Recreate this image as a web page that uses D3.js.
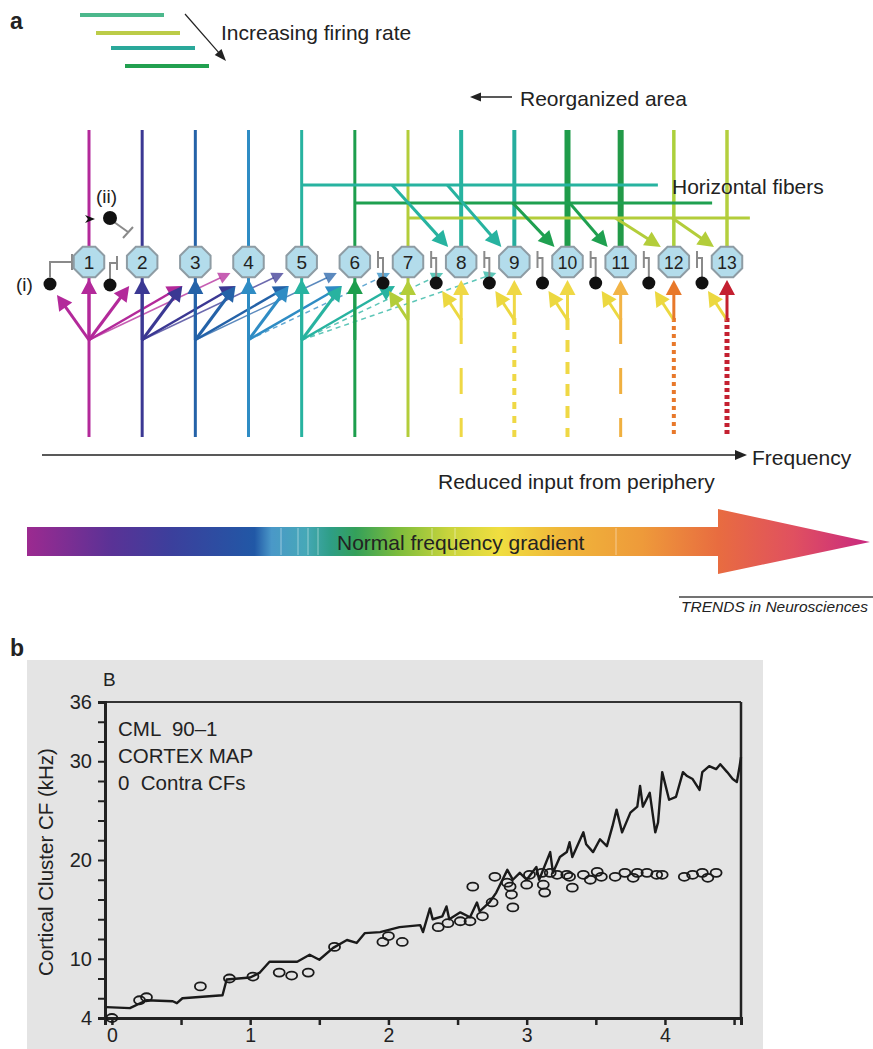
<!DOCTYPE html>
<html>
<head>
<meta charset="utf-8">
<script src="https://cdn.jsdelivr.net/npm/d3@7"></script>
<style>
  body { margin: 0; background: #fff; }
  text { font-family: "Liberation Sans", Arial, sans-serif; fill: #222; }
</style>
</head>
<body>
<div id="chart"></div>
<script>
// ---------- panel a: schematic ----------
const neurons = [1, 2, 3, 4, 5, 6, 7, 8, 9, 10, 11, 12, 13];
const upperColors = ["#b3299a", "#3b3893", "#2462a8", "#2f8cc4", "#28b3a0", "#1d9e4d", "#b3cd3a",
                     "#27b3a0", "#26ae9e", "#1f9c4a", "#229a48", "#acd03c", "#b4cf3e"];
const upperWidths = [3, 3, 3, 3, 3, 3, 3, 4, 4, 6, 6, 3.5, 3.5];
const lowerColors = ["#b3299a", "#3b3893", "#2462a8", "#2f8cc4", "#28b3a0", "#1d9e4d", "#b3cd3a",
                     "#efd845", "#efd845", "#efd845", "#f0b040", "#e8782a", "#c42030"];
const lowerDash = [null, null, null, null, null, null, null, "26,24", "7,7", "12,10", "26,24", "4,4", "4,3"];
const lowerWidths = [3, 3, 3, 3, 3, 3, 3, 3, 4, 4, 3, 4, 5];
const headColors = [null, null, null, null, null, null, "#b3cd3a", "#efd845", "#efd845", "#efd845", "#f2b446", "#e8782a", "#c42030"];

// fan-out of excitatory inputs (0 = interneuron (i))
const fanSource = [1, 1, 1, 1, 1, 2, 2, 2, 2, 3, 3, 3, 3, 4, 4, 4, 4, 5, 5, 5, 5, 5, 6];
const fanTarget = [0, 1, 2, 3, 4, 2, 3, 4, 5, 3, 4, 5, 6, 4, 5, 6, 7, 5, 6, 7, 8, 9, 6];
const fanWeight = [3, 3, 3, 2.5, 1.5, 3, 3, 2.5, 1.5, 3, 3, 2.5, 1.5, 3, 3, 2.5, 1.5, 3, 3, 2.5, 1.5, 1.5, 3];

// horizontal fibers
const fiberStart = [5, 6, 7];
const fiberEnd = [11.7, 12.72, 13.43];
const fiberColors = ["#27b3a0", "#1fa050", "#b3cd3a"];
const diagTarget = [8, 9, 10, 11, 12, 13];
const diagFiber = [0, 0, 1, 1, 2, 2];
const diagStart = [6.7, 7.74, 8.97, 10.04, 10.9, 11.97];

// firing-rate legend
const legendStart = [80, 96, 111, 125];
const legendColors = ["#4cb88c", "#bccc48", "#2aa89a", "#22a050"];

// gradient
const gradStops = [0, 0.10, 0.17, 0.27, 0.29, 0.33, 0.36, 0.39, 0.44, 0.5, 0.56, 0.63, 0.73, 0.82, 0.91, 1];
const gradColors = ["#9c2a90", "#5a3296", "#3c3f9c", "#2158a6", "#4a98c8", "#46a8b8", "#2e9e86", "#34a05a", "#7cbc3c",
                    "#c8d43c", "#f0de40", "#f0b83a", "#ee9a3a", "#e86c40", "#e05060", "#c82880"];

// ---------- panel b: cortical map ----------
const lineX = [-0.04, 0.13, 0.25, 0.44, 0.47, 0.51, 0.80, 0.83, 1.00, 1.07, 1.14, 1.34, 1.43, 1.50, 1.60, 1.70, 1.77, 1.83,
  1.94, 2.08, 2.23, 2.25, 2.30, 2.32, 2.39, 2.42, 2.44, 2.52, 2.59, 2.64, 2.66, 2.73, 2.78, 2.86, 2.90, 2.95, 3.00, 3.07,
  3.09, 3.17, 3.19, 3.24, 3.29, 3.31, 3.33, 3.41, 3.43, 3.48, 3.53, 3.58, 3.62, 3.65, 3.69, 3.75, 3.80, 3.82, 3.84, 3.89,
  3.93, 3.95, 3.98, 4.03, 4.08, 4.13, 4.16, 4.20, 4.25, 4.27, 4.32, 4.37, 4.40, 4.45, 4.49, 4.52, 4.54, 4.55];
const lineY = [5.1, 5.0, 5.8, 5.7, 5.5, 6.0, 6.3, 7.9, 8.1, 8.6, 9.7, 9.7, 10.4, 9.9, 11.1, 11.9, 11.6, 12.6,
  12.7, 13.2, 13.4, 12.7, 15.1, 14.0, 14.3, 15.3, 14.0, 14.7, 14.2, 15.7, 14.8, 15.7, 16.7, 19.0, 18.0, 18.7, 18.0, 19.3,
  18.0, 20.8, 18.7, 20.3, 20.8, 21.8, 20.3, 22.8, 21.6, 20.8, 22.1, 21.4, 23.4, 25.1, 22.8, 24.8, 25.4, 27.5, 25.4, 26.8,
  22.8, 23.8, 28.9, 26.1, 26.4, 28.9, 28.5, 28.2, 27.1, 28.9, 29.5, 29.2, 29.7, 28.9, 28.2, 27.9, 29.5, 30.4];
const circleX = [0.00, 0.20, 0.25, 0.64, 0.85, 1.02, 1.21, 1.30, 1.42, 1.61, 1.96, 2.00, 2.10, 2.36, 2.43, 2.52, 2.59,
  2.61, 2.68, 2.75, 2.77, 2.86, 2.88, 2.89, 2.90, 3.00, 3.02, 3.11, 3.12, 3.13, 3.17, 3.22, 3.29, 3.31, 3.33, 3.41, 3.46,
  3.51, 3.54, 3.64, 3.71, 3.77, 3.80, 3.87, 3.94, 3.98, 4.14, 4.20, 4.27, 4.31, 4.37];
const circleY = [4.0, 5.8, 6.1, 7.2, 8.0, 8.2, 8.6, 8.3, 8.6, 11.2, 11.7, 12.3, 11.7, 13.2, 13.6, 13.8, 13.8,
  17.3, 14.3, 15.7, 18.3, 17.7, 17.3, 16.5, 15.2, 17.5, 18.5, 18.7, 17.5, 16.7, 18.7, 18.5, 18.5, 18.3, 17.2, 18.5, 18.0,
  18.8, 18.3, 18.3, 18.7, 18.2, 18.7, 18.7, 18.5, 18.5, 18.3, 18.5, 18.7, 18.2, 18.7];
const yTicks = d3.range(4, 37, 2);
const yLabels = [4, 10, 20, 30, 36];
const xTicks = d3.range(0, 4.51, 0.5);
const infoLines = ["CML  90\u20131", "CORTEX MAP", "0  Contra CFs"];

const FS = "21px";

const svg = d3.select("#chart").append("svg")
  .attr("width", 873)
  .attr("height", 1049)
  .style("display", "block");

svg.append("rect").attr("width", 873).attr("height", 1049).attr("fill", "#fff");

const xN = d3.scaleLinear().domain([1, 13]).range([89, 727]);
const cy = 262;

function arrow(g, x1, y1, x2, y2, color, w, o) {
  o = o || {};
  const L = o.len || 12, H = o.hw || 6;
  const a = Math.atan2(y2 - y1, x2 - x1);
  const c = Math.cos(a), s = Math.sin(a);
  const bx = x2 - L * c, by = y2 - L * s;
  g.append("line")
    .attr("x1", x1).attr("y1", y1).attr("x2", bx + c).attr("y2", by + s)
    .attr("stroke", color).attr("stroke-width", w)
    .attr("stroke-dasharray", o.dash || null)
    .attr("opacity", o.op || 1);
  g.append("polygon")
    .attr("points", [[x2, y2], [bx - H * s, by + H * c], [bx + H * s, by - H * c]].map(p => p.join(",")).join(" "))
    .attr("fill", color)
    .attr("opacity", o.op || 1);
}

const a = svg.append("g");

// panel label and legend
a.append("text").attr("x", 10).attr("y", 29).style("font-size", "23px").style("font-weight", "bold").text("a");
a.selectAll(".leg").data(legendStart).enter().append("line")
  .attr("x1", d => d).attr("x2", d => d + 84)
  .attr("y1", (d, i) => [15, 33, 48, 66][i]).attr("y2", (d, i) => [15, 33, 48, 66][i])
  .attr("stroke", (d, i) => legendColors[i]).attr("stroke-width", 4);
arrow(a, 185, 14, 226, 61, "#222", 1.2, { len: 12, hw: 4.5 });
a.append("text").attr("x", 221).attr("y", 40).style("font-size", FS).text("Increasing firing rate");

arrow(a, 512, 97, 470, 97, "#222", 1.5, { len: 11, hw: 4.5 });
a.append("text").attr("x", 520).attr("y", 106).style("font-size", FS).text("Reorganized area");

// upper vertical fibers
a.selectAll(".up").data(neurons).enter().append("line")
  .attr("x1", d => xN(d)).attr("x2", d => xN(d))
  .attr("y1", 130).attr("y2", cy)
  .attr("stroke", (d, i) => upperColors[i]).attr("stroke-width", (d, i) => upperWidths[i]);

// lower vertical fibers
a.selectAll(".low").data(neurons).enter().append("line")
  .attr("x1", d => xN(d)).attr("x2", d => xN(d))
  .attr("y1", d => d <= 7 ? cy : 318).attr("y2", 437)
  .attr("stroke", (d, i) => lowerColors[i]).attr("stroke-width", (d, i) => lowerWidths[i])
  .attr("stroke-dasharray", (d, i) => lowerDash[i]);

// horizontal fibers
const fiberY = [185, 203, 218];
fiberStart.forEach((s, i) => {
  a.append("line").attr("x1", xN(s)).attr("x2", xN(fiberEnd[i]))
    .attr("y1", fiberY[i]).attr("y2", fiberY[i])
    .attr("stroke", fiberColors[i]).attr("stroke-width", 3);
});
diagTarget.forEach((t, i) => {
  arrow(a, xN(diagStart[i]), fiberY[diagFiber[i]], xN(t) - 13, 247, fiberColors[diagFiber[i]], 3, { len: 16, hw: 8 });
});
a.append("text").attr("x", 672).attr("y", 194).style("font-size", FS).text("Horizontal fibers");

// excitatory fan-out
fanSource.forEach((s, i) => {
  const t = fanTarget[i];
  const span = t - s;
  let ex, ey;
  if (t === 0) { ex = 57; ey = 295; }
  else if (t === s) { ex = xN(s); ey = 279; }
  else if (span <= 2) { ex = xN(t) - 13; ey = 286; }
  else { ex = xN(t) - 18; ey = 273; }
  const dashed = span >= 3 && s >= 4;
  arrow(a, xN(s), 340, ex, ey, upperColors[s - 1], fanWeight[i], {
    len: span >= 3 ? 12 : 15, hw: span >= 3 ? 6 : 8,
    dash: dashed ? "5,4" : null, op: span >= 3 ? 0.75 : 1
  });
});

// inputs for neurons 7-13
neurons.filter(d => d >= 7).forEach(d => {
  const i = d - 1;
  arrow(a, xN(d), 320, xN(d) - 19, 291, d === 7 ? "#b3cd3a" : "#ecd840", 3, { len: 15, hw: 8 });
  arrow(a, xN(d), 320, xN(d), 280, headColors[i], 3, { len: 15, hw: 8 });
});

// inhibitory interneurons
const inh = a.append("g").attr("fill", "none").attr("stroke", "#8a8a8a").attr("stroke-width", 2);
inh.append("path").attr("d", "M50,277V262H72M72,254V270");
inh.append("path").attr("d", "M110,279V263H117M117,256V270");
inh.append("path").attr("d", "M114,222L128,232M123,238L133,227");
neurons.filter(d => d >= 7).forEach(d => {
  const dx = xN(d) - 25;
  inh.append("path").attr("d", `M${dx},277V258H${dx - 5}M${dx - 5},251V268`);
});
const dots = [[50, 284], [110, 285], [110, 218]].concat(neurons.filter(d => d >= 7).map(d => [xN(d) - 25, 283]));
a.selectAll(".dot").data(dots).enter().append("circle")
  .attr("cx", d => d[0]).attr("cy", d => d[1]).attr("r", d => d[1] === 218 ? 7 : 6.5)
  .attr("fill", "#111");
a.append("polygon").attr("points", "85,215 95,219 85,223 88,219").attr("fill", "#111");
a.append("text").attr("x", 96).attr("y", 203).style("font-size", "19px").text("(ii)");
a.append("text").attr("x", 16).attr("y", 291).style("font-size", "19px").text("(i)");

// neuron octagons
const R = 16.5;
const octo = d3.range(8).map(k => {
  const ang = (22.5 + 45 * k) * Math.PI / 180;
  return [R * Math.cos(ang), R * Math.sin(ang)];
});
const ng = a.selectAll(".neu").data(neurons).enter().append("g")
  .attr("transform", d => `translate(${xN(d)},${cy})`);
ng.append("polygon")
  .attr("points", octo.map(p => p.join(",")).join(" "))
  .attr("fill", "#b3dceb").attr("stroke", "#8e9ca4").attr("stroke-width", 2);
ng.append("text").attr("text-anchor", "middle").attr("y", 7)
  .style("font-size", d => d >= 10 ? "17.5px" : "19px").text(d => d);

// frequency axis
arrow(a, 42, 455, 747, 455, "#222", 1.5, { len: 12, hw: 5 });
a.append("text").attr("x", 752).attr("y", 465).style("font-size", FS).text("Frequency");
a.append("text").attr("x", 438).attr("y", 489).style("font-size", FS).text("Reduced input from periphery");

// gradient arrow
const grad = svg.append("defs").append("linearGradient").attr("id", "freqGrad")
  .attr("gradientUnits", "userSpaceOnUse").attr("x1", 27).attr("x2", 870).attr("y1", 0).attr("y2", 0);
grad.selectAll("stop").data(gradStops).enter().append("stop")
  .attr("offset", d => d).attr("stop-color", (d, i) => gradColors[i]);
a.append("polygon")
  .attr("points", "27,527 718,527 718,509 870,542 718,574 718,556 27,556")
  .attr("fill", "url(#freqGrad)");
[281, 298, 308, 318, 432, 455, 616].forEach(x => {
  a.append("line").attr("x1", x).attr("x2", x).attr("y1", 528).attr("y2", 555)
    .attr("stroke", "#fff").attr("stroke-width", 1).attr("opacity", 0.45);
});
a.append("text").attr("x", 337).attr("y", 550).style("font-size", FS).text("Normal frequency gradient");

a.append("line").attr("x1", 679).attr("x2", 873).attr("y1", 597).attr("y2", 597).attr("stroke", "#444").attr("stroke-width", 1.5);
a.append("text").attr("x", 681).attr("y", 612).style("font-size", "15.5px").style("font-style", "italic").text("TRENDS in Neurosciences");

// ---------- panel b ----------
const b = svg.append("g");
b.append("text").attr("x", 10).attr("y", 656).style("font-size", "23px").style("font-weight", "bold").text("b");
b.append("rect").attr("x", 27).attr("y", 660).attr("width", 736).attr("height", 389).attr("fill", "#e4e4e4");

const x = d3.scaleLinear().domain([-0.05, 4.55]).range([105, 741]);
const y = d3.scaleLinear().domain([4, 36]).range([1018, 702]);

b.append("text").attr("x", 103).attr("y", 686).style("font-size", "19px").text("B");

// frame
b.append("line").attr("x1", x(-0.05)).attr("x2", x(4.55)).attr("y1", y(36)).attr("y2", y(36))
  .attr("stroke", "#333").attr("stroke-width", 1.8);
b.append("line").attr("x1", x(4.55)).attr("x2", x(4.55)).attr("y1", y(36)).attr("y2", y(4))
  .attr("stroke", "#222").attr("stroke-width", 2.5);

const yAxis = b.append("g").attr("transform", `translate(${x(-0.05)},0)`)
  .call(d3.axisLeft(y).tickValues(yTicks).tickSizeOuter(0).tickSize(7).tickPadding(6)
    .tickFormat(d => yLabels.includes(d) ? d : ""));
yAxis.select(".domain").attr("stroke", "#222").attr("stroke-width", 3);
yAxis.selectAll(".tick line").attr("stroke", "#222").attr("stroke-width", 2);
yAxis.selectAll("text").style("font-size", "20px").attr("fill", "#222");

const xAxis = b.append("g").attr("transform", `translate(0,${y(4)})`)
  .call(d3.axisBottom(x).tickValues(xTicks).tickSizeOuter(0).tickSize(7).tickPadding(3)
    .tickFormat(d => Number.isInteger(d) ? d : ""));
xAxis.select(".domain").attr("stroke", "#222").attr("stroke-width", 3);
xAxis.selectAll(".tick line").attr("stroke", "#222").attr("stroke-width", 2.5);
xAxis.selectAll("text").style("font-size", "19.5px").attr("fill", "#222");

b.append("text")
  .attr("transform", `translate(53,${(y(4) + y(36)) / 2 + 2}) rotate(-90)`)
  .attr("text-anchor", "middle").style("font-size", "20.5px")
  .text("Cortical Cluster CF (kHz)");

b.selectAll(".info").data(infoLines).enter().append("text")
  .attr("x", 118).attr("y", (d, i) => 736 + i * 27)
  .style("font-size", "20.5px").style("white-space", "pre")
  .text(d => d);

const pts = lineX.map((d, i) => [d, lineY[i]]);
b.append("path").datum(pts)
  .attr("d", d3.line().x(d => x(d[0])).y(d => y(d[1])))
  .attr("fill", "none").attr("stroke", "#1a1a1a").attr("stroke-width", 2.4).attr("stroke-linejoin", "round");

b.selectAll(".cf").data(circleX).enter().append("ellipse")
  .attr("cx", d => x(d)).attr("cy", (d, i) => y(circleY[i]))
  .attr("rx", 5.5).attr("ry", 4)
  .attr("fill", "none").attr("stroke", "#1a1a1a").attr("stroke-width", 1.8);
</script>
</body>
</html>
